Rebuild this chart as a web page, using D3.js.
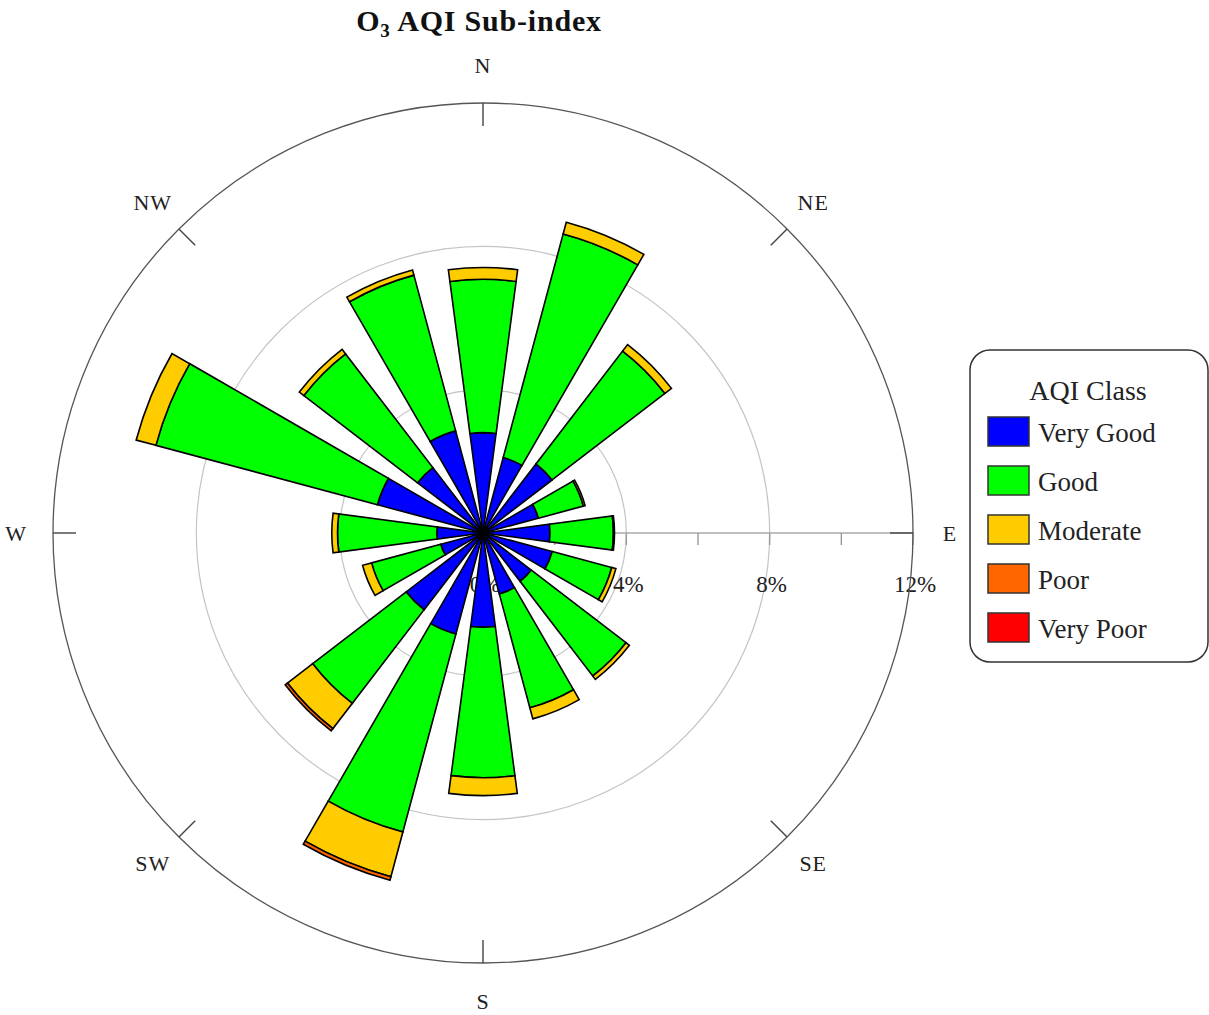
<!DOCTYPE html>
<html>
<head>
<meta charset="utf-8">
<script src="https://cdn.jsdelivr.net/npm/d3@7"></script>
<style>
  html, body { margin: 0; padding: 0; background: #fff; }
  svg { display: block; font-family: "Liberation Serif", "DejaVu Serif", serif; }
</style>
</head>
<body>
<svg id="chart" width="1209" height="1015"></svg>
<script>
// Wind directions (clockwise from north)
const directions = ["N", "NNE", "NE", "ENE", "E", "ESE", "SE", "SSE",
                    "S", "SSW", "SW", "WSW", "W", "WNW", "NW", "NNW"];

// Frequency (%) of each AQI class per direction
const veryGood = [2.80, 2.18, 2.43, 1.60, 1.87, 2.00, 1.70, 1.76, 2.63, 2.92, 2.70, 1.22, 1.29, 3.05, 2.30, 2.95];
const good     = [4.28, 6.46, 3.97, 1.30, 1.77, 1.72, 3.33, 3.29, 4.20, 5.72, 3.29, 2.00, 2.77, 6.40, 4.00, 4.50];
const moderate = [0.33, 0.34, 0.23, 0.05, 0.03, 0.12, 0.12, 0.32, 0.50, 1.29, 0.89, 0.26, 0.16, 0.57, 0.16, 0.15];
const poor     = [0.00, 0.00, 0.00, 0.00, 0.00, 0.00, 0.00, 0.00, 0.00, 0.10, 0.08, 0.00, 0.00, 0.00, 0.00, 0.00];
const veryPoor = [0, 0, 0, 0, 0, 0, 0, 0, 0, 0, 0, 0, 0, 0, 0, 0];

const classes = ["Very Good", "Good", "Moderate", "Poor", "Very Poor"];
const classColors = ["#0000ff", "#00ff00", "#ffcc00", "#ff6600", "#ff0000"];

const radialTicks = [0, 2, 4, 6, 8, 10, 12];
const radialLabels = [0, 4, 8, 12];
const gridRings = [4, 8];
const compass = ["N", "NE", "E", "SE", "S", "SW", "W", "NW"];

const svg = d3.select("#chart");
const cx = 483, cy = 533;
const maxPct = 12;
const r = d3.scaleLinear().domain([0, maxPct]).range([0, 430]);
const angle = d3.scaleBand().domain(directions).range([0, 2 * Math.PI]);
const step = angle.bandwidth();
const barHalf = step / 3; // bars cover two thirds of each sector

const g = svg.append("g").attr("transform", `translate(${cx},${cy})`);

// Title
const title = svg.append("text")
  .attr("x", 479).attr("y", 31)
  .attr("text-anchor", "middle")
  .attr("font-size", 30).attr("font-weight", "bold")
  .attr("letter-spacing", 0.8)
  .attr("fill", "#111");
title.append("tspan").text("O");
title.append("tspan").attr("font-size", 19).attr("dy", 6).text("3");
title.append("tspan").attr("dy", -6).text(" AQI Sub-index");

// Grid rings
g.selectAll("circle.grid").data(gridRings).join("circle")
  .attr("class", "grid")
  .attr("r", d => r(d))
  .attr("fill", "none").attr("stroke", "#c4c4c4").attr("stroke-width", 1.2);

// Radial axis along east
g.append("line")
  .attr("x1", 0).attr("y1", 0).attr("x2", r(maxPct)).attr("y2", 0)
  .attr("stroke", "#aaa").attr("stroke-width", 1.4);
g.selectAll("line.rtick").data(radialTicks.filter(d => d > 0)).join("line")
  .attr("class", "rtick")
  .attr("x1", d => r(d)).attr("x2", d => r(d))
  .attr("y1", 0).attr("y2", 12)
  .attr("stroke", "#999").attr("stroke-width", 1.4);
g.selectAll("text.rlabel").data(radialLabels).join("text")
  .attr("class", "rlabel")
  .attr("x", d => r(d) + 2).attr("y", 51)
  .attr("text-anchor", "middle").attr("dominant-baseline", "central")
  .attr("font-size", 23).attr("fill", "#222")
  .text(d => d + "%");

// Stacked sectors
const table = directions.map((d, i) => ({
  dir: d,
  "Very Good": veryGood[i], "Good": good[i], "Moderate": moderate[i],
  "Poor": poor[i], "Very Poor": veryPoor[i]
}));
const series = d3.stack().keys(classes)(table);
const arc = d3.arc()
  .innerRadius(d => r(d[0]))
  .outerRadius(d => r(d[1]))
  .startAngle(d => angle(d.data.dir) - barHalf)
  .endAngle(d => angle(d.data.dir) + barHalf);

g.selectAll("g.layer").data(series).join("g")
  .attr("class", "layer")
  .attr("fill", (d, i) => classColors[i])
  .selectAll("path").data(d => d.filter(s => s[1] - s[0] > 0)).join("path")
  .attr("d", arc)
  .attr("stroke", "#000").attr("stroke-width", 1.6).attr("stroke-linejoin", "miter");

// Outer ring and compass ticks
g.append("circle").attr("r", r(maxPct))
  .attr("fill", "none").attr("stroke", "#555").attr("stroke-width", 1.3);
const compassAngle = d3.scaleBand().domain(compass).range([0, 2 * Math.PI]);
g.selectAll("line.ctick").data(compass).join("line")
  .attr("class", "ctick")
  .attr("x1", d => Math.sin(compassAngle(d)) * r(maxPct))
  .attr("y1", d => -Math.cos(compassAngle(d)) * r(maxPct))
  .attr("x2", d => Math.sin(compassAngle(d)) * (r(maxPct) - 23))
  .attr("y2", d => -Math.cos(compassAngle(d)) * (r(maxPct) - 23))
  .attr("stroke", "#444").attr("stroke-width", 1.4);
g.selectAll("text.clabel").data(compass).join("text")
  .attr("class", "clabel")
  .attr("x", d => Math.sin(compassAngle(d)) * 467)
  .attr("y", d => -Math.cos(compassAngle(d)) * 468)
  .attr("text-anchor", "middle").attr("dominant-baseline", "central")
  .attr("font-size", 22).attr("letter-spacing", 1).attr("fill", "#222")
  .text(d => d);

// Legend
const legend = svg.append("g").attr("transform", "translate(970,350)");
legend.append("rect")
  .attr("width", 238).attr("height", 312).attr("rx", 20).attr("ry", 20)
  .attr("fill", "#fff").attr("stroke", "#333").attr("stroke-width", 1.5);
legend.append("text")
  .attr("x", 118).attr("y", 50)
  .attr("text-anchor", "middle").attr("font-size", 28).attr("fill", "#222")
  .text("AQI Class");
const items = legend.selectAll("g.item").data(classes).join("g")
  .attr("class", "item")
  .attr("transform", (d, i) => `translate(18,${67 + i * 49})`);
items.append("rect")
  .attr("width", 41).attr("height", 29)
  .attr("fill", (d, i) => classColors[i])
  .attr("stroke", "#333").attr("stroke-width", 1.5);
items.append("text")
  .attr("x", 50).attr("y", 25)
  .attr("font-size", 27).attr("fill", "#222")
  .text(d => d);
</script>
</body>
</html>
